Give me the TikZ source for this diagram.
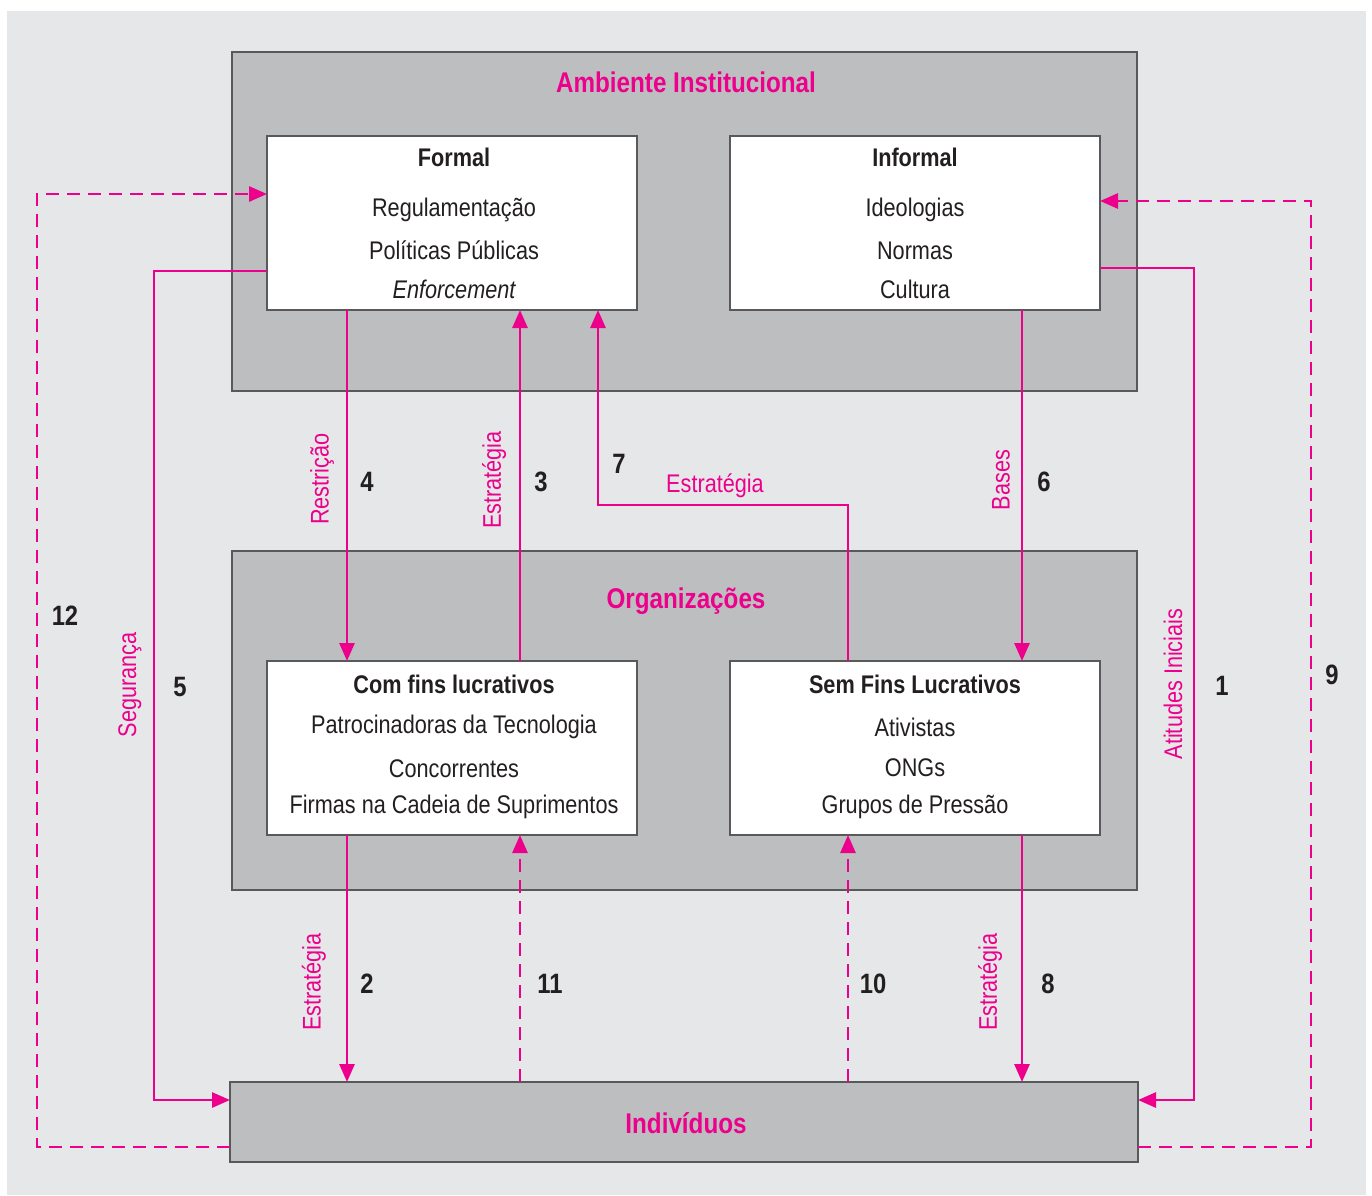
\documentclass[tikz,border=0pt]{standalone}
\usepackage{fontspec}
\setmainfont{Liberation Sans}[FakeStretch=0.85]
\usetikzlibrary{arrows.meta}
\definecolor{pinkc}{HTML}{EC008C}
\definecolor{bgc}{HTML}{E6E7E8}
\definecolor{boxc}{HTML}{BCBEC0}
\definecolor{edgec}{HTML}{58595B}
\definecolor{txtc}{HTML}{231F20}
\begin{document}
\begin{tikzpicture}[x=1pt,y=-1pt,
 bigbox/.style={draw=edgec, line width=1.5pt, fill=boxc, inner sep=0pt, outer sep=0pt},
 whitebox/.style={draw=edgec, line width=1.5pt, fill=white, inner sep=0pt, outer sep=0pt, minimum width=370pt, minimum height=174pt},
 txt/.style={text=txtc, font=\fontsize{25.5}{30}\selectfont, anchor=base, inner sep=0pt},
 hdr/.style={text=txtc, font=\fontsize{25.5}{30}\selectfont\bfseries, anchor=base, inner sep=0pt},
 ttl/.style={text=pinkc, font=\fontsize{28.5}{34}\selectfont\bfseries, anchor=base, inner sep=0pt},
 num/.style={text=txtc, font=\fontsize{28}{34}\selectfont\bfseries, anchor=base, inner sep=0pt},
 lbl/.style={text=pinkc, font=\fontsize{25.5}{30}\selectfont, inner sep=0pt},
 vlbl/.style={lbl, rotate=90},
 conn/.style={draw=pinkc, line width=2.8pt, line join=miter, -{Triangle[length=18pt,width=15pt]}},
 dconn/.style={conn, dash pattern=on 13pt off 8pt},
]
\useasboundingbox (0,0) rectangle (1372,1195);
\fill[white] (0,0) rectangle (1372,1195);
\fill[bgc] (7,11) rectangle (1366,1195);

% boxes
\node[bigbox, minimum width=905pt, minimum height=339pt] (amb) at (684.5,221.5) {};
\node[bigbox, minimum width=905pt, minimum height=339pt] (org) at (684.5,720.5) {};
\node[bigbox, minimum width=908pt, minimum height=80pt] (ind) at (684,1122) {};
\node[whitebox] (formal) at (452,223) {};
\node[whitebox] (informal) at (915,223) {};
\node[whitebox] (comfins) at (452,748) {};
\node[whitebox] (semfins) at (915,748) {};

% titles
\node[ttl] (tamb) at (686,92) {Ambiente Institucional};
\node[ttl] (torg) at (686,608) {Organizações};
\node[ttl] (tind) at (686,1133) {Indivíduos};

% formal
\node[hdr] (f0) at (454,166) {Formal};
\node[txt] (f1) at (454,216) {Regulamentação};
\node[txt] (f2) at (454,259) {Políticas Públicas};
\node[txt] (f3) at (454,298) {\itshape Enforcement};
% informal
\node[hdr] (i0) at (915,166) {Informal};
\node[txt] (i1) at (915,216) {Ideologias};
\node[txt] (i2) at (915,259) {Normas};
\node[txt] (i3) at (915,298) {Cultura};
% com fins
\node[hdr] (c0) at (454,693) {Com fins lucrativos};
\node[txt] (c1) at (454,733) {Patrocinadoras da Tecnologia};
\node[txt] (c2) at (454,777) {Concorrentes};
\node[txt] (c3) at (454,813) {Firmas na Cadeia de Suprimentos};
% sem fins
\node[hdr] (s0) at (915,693) {Sem Fins Lucrativos};
\node[txt] (s1) at (915,736) {Ativistas};
\node[txt] (s2) at (915,776) {ONGs};
\node[txt] (s3) at (915,813) {Grupos de Pressão};

% x positions
\coordinate (xa) at (347,0);
\coordinate (xb) at (520,0);
\coordinate (xc) at (848,0);
\coordinate (xd) at (1022,0);
\coordinate (k7) at (598,505);
\coordinate (k5a) at (154,271);
\coordinate (k5b) at (154,1100);
\coordinate (k1a) at (1194,268);
\coordinate (k1b) at (1194,1100);
\coordinate (k12a) at (37,1147);
\coordinate (k12b) at (37,194);
\coordinate (k9a) at (1311,1147);
\coordinate (k9b) at (1311,201);

% connectors
\draw[conn] (formal.south -| xa) -- (comfins.north -| xa);
\draw[conn] (comfins.north -| xb) -- (formal.south -| xb);
\draw[conn] (semfins.north -| xc) |- (k7) -- (formal.south -| k7);
\draw[conn] (informal.south -| xd) -- (semfins.north -| xd);
\draw[conn] (comfins.south -| xa) -- (ind.north -| xa);
\draw[dconn] (ind.north -| xb) -- (comfins.south -| xb);
\draw[dconn] (ind.north -| xc) -- (semfins.south -| xc);
\draw[conn] (semfins.south -| xd) -- (ind.north -| xd);
\draw[conn] (k5a -| formal.west) -- (k5a) -- (k5b) -- (k5b -| ind.west);
\draw[conn] (k1a -| informal.east) -- (k1a) -- (k1b) -- (k1b -| ind.east);
\draw[dconn] (k12a -| ind.west) -- (k12a) -- (k12b) -- (k12b -| formal.west);
\draw[dconn] (k9a -| ind.east) -- (k9a) -- (k9b) -- (k9b -| informal.east);

% labels
\node[vlbl] (l4) at (322,479) {Restrição};
\node[num] (n4) at (367,491) {4};
\node[vlbl] (l3) at (494,480) {Estratégia};
\node[num] (n3) at (541,491) {3};
\node[num] (n7) at (619,473) {7};
\node[lbl, anchor=base] (l7) at (715,492) {Estratégia};
\node[vlbl] (l6) at (1001,480) {Bases};
\node[num] (n6) at (1044,491) {6};
\node[num] (n12) at (65,625) {12};
\node[vlbl] (l5) at (130,685) {Segurança};
\node[num] (n5) at (180,696) {5};
\node[vlbl] (l1) at (1173,684) {Atitudes Iniciais};
\node[num] (n1) at (1222,695) {1};
\node[num] (n9) at (1332,684) {9};
\node[vlbl] (l2) at (314,982) {Estratégia};
\node[num] (n2) at (367,993) {2};
\node[num] (n11) at (550,993) {11};
\node[num] (n10) at (873,993) {10};
\node[vlbl] (l8) at (990,982) {Estratégia};
\node[num] (n8) at (1048,993) {8};
\end{tikzpicture}
\end{document}
